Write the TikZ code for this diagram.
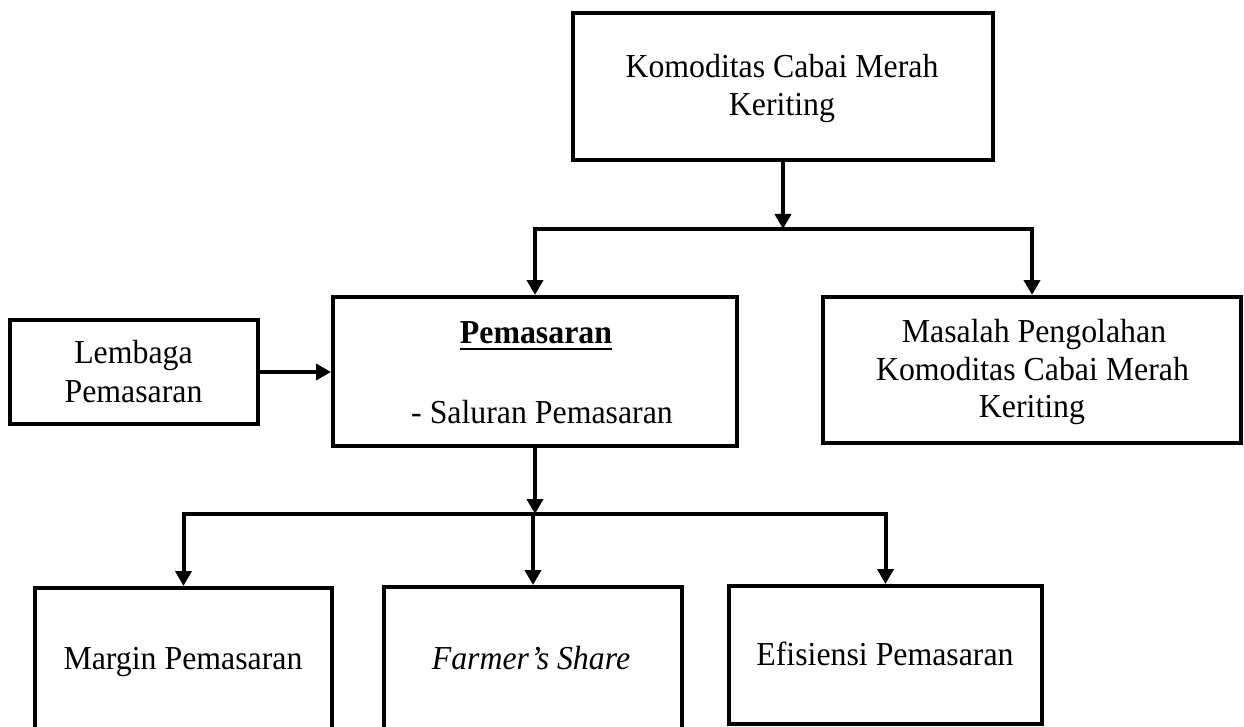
\documentclass[tikz,border=0pt]{standalone}
\usepackage{fontspec}
\setmainfont{Liberation Serif}[FakeStretch=0.95]
\usetikzlibrary{arrows.meta}
\tikzset{
  box/.style={draw, line width=4pt, rectangle, inner sep=0pt},
  txt/.style={inner sep=0pt, anchor=base, font=\fontsize{33.5}{38}\selectfont},
  conn/.style={line width=4pt, -{Triangle[length=15pt,width=16pt]}},
  connboth/.style={line width=4pt, {Triangle[length=15pt,width=16pt]}-{Triangle[length=15pt,width=16pt]}}
}
\begin{document}
\begin{tikzpicture}[x=1pt,y=-1pt]
\useasboundingbox (0,0) rectangle (1244,727);
\clip (0,0) rectangle (1244,727);
% boxes
\node[box, minimum width=420pt, minimum height=147pt] (top) at (783,86.5) {};
\node[box, minimum width=248pt, minimum height=104pt] (lem) at (134,372) {};
\node[box, minimum width=404pt, minimum height=149pt] (pem) at (535,371.5) {};
\node[box, minimum width=418pt, minimum height=146pt] (mas) at (1032,370) {};
\node[box, minimum width=297pt, minimum height=142pt] (mar) at (183.5,659) {};
\node[box, minimum width=298pt, minimum height=143pt] (far) at (533,658.5) {};
\node[box, minimum width=313pt, minimum height=138pt] (efi) at (885.5,655) {};
% texts
\node[txt] (topt1) at (782,77.5) {Komoditas Cabai Merah};
\node[txt] (topt2) at (782,115.5) {Keriting};
\node[txt] (lemt1) at (133.5,363.5) {Lembaga};
\node[txt] (lemt2) at (133.5,402) {Pemasaran};
\node[txt] (pemt1) at (536,343) {\textbf{Pemasaran}};
\node[txt] (pemt2) at (542,423) {- Saluran Pemasaran};
\node[txt] (mast1) at (1034,342.5) {Masalah Pengolahan};
\node[txt] (mast2) at (1032.5,380) {Komoditas Cabai Merah};
\node[txt] (mast3) at (1032,417.5) {Keriting};
\node[txt] (mart) at (183,669) {Margin Pemasaran};
\node[txt] (fart) at (531,669) {\textit{Farmer’s Share}};
\node[txt] (efit) at (885,665.5) {Efisiensi Pemasaran};
\draw[line width=2.6pt] ([yshift=-6pt]pemt1.base west) -- ([yshift=-6pt]pemt1.base east);
% connectors
\coordinate (b1) at (783,229);
\coordinate (b2) at (535,514);
\draw[conn] (top.south) -- (b1);
\draw[connboth] (pem.north) |- (b1) -| (mas.north);
\draw[conn] (lem.east) -- (lem.east -| pem.west);
\draw[conn] (pem.south) -- (b2);
\draw[connboth] (mar.north) |- (b2) -| (efi.north);
\draw[conn] (far.north |- b2) -- (far.north);
\end{tikzpicture}
\end{document}
